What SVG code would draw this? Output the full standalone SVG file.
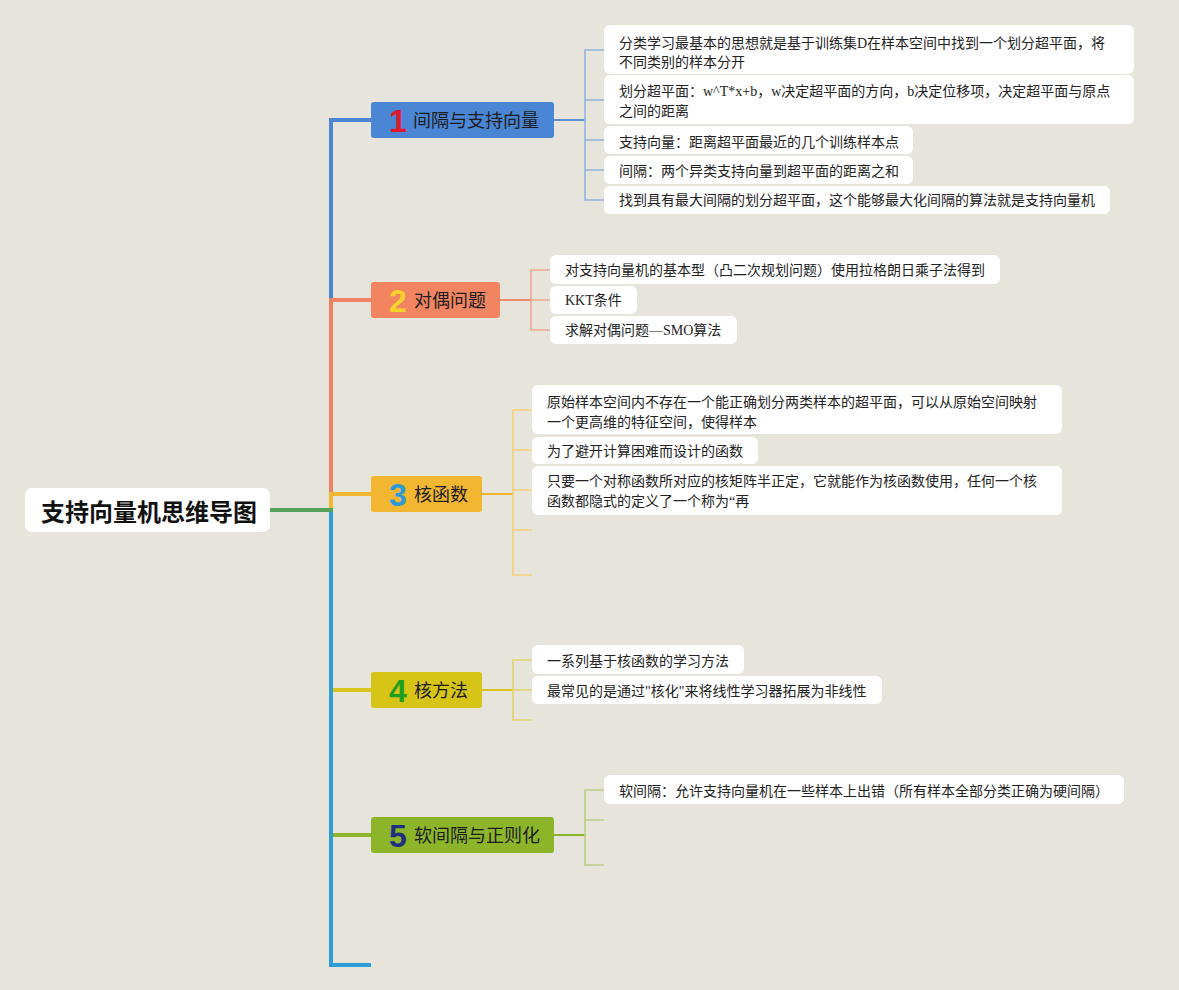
<svg xmlns="http://www.w3.org/2000/svg" width="1179" height="990" viewBox="0 0 1179 990">
<style>
.leaf{fill:#ffffff}
.lt{font-family:"Liberation Serif","Noto Sans CJK SC",serif;font-size:14px;fill:#222222}
.bt{font-family:"Noto Sans CJK SC",sans-serif;font-size:18px;fill:#1c1c1c}
.num{font-family:"Liberation Sans",sans-serif;font-size:32px;font-weight:bold;text-anchor:middle}
.rt{font-family:"Noto Sans CJK SC",sans-serif;font-size:24px;font-weight:bold;fill:#111111}
.trunk{fill:none;stroke-width:4;stroke-linejoin:miter}
.sub{fill:none;stroke-width:1.6}
.stem{fill:none;stroke-width:2}
</style>
<rect x="0" y="0" width="1179" height="990" fill="#e7e4dc"/>
<g id="connectors">
  <path class="trunk" d="M331,510 V120 H371" stroke="#4a86d4"/>
  <path class="trunk" d="M331,510 V300 H371" stroke="#ef8262"/>
  <path class="trunk" d="M331,510 V494 H371" stroke="#f2b630"/>
  <path class="trunk" d="M331,510 V690 H371" stroke="#d8c41a"/>
  <path class="trunk" d="M331,510 V835 H371" stroke="#8cb52a"/>
  <path class="trunk" d="M331,510 V965 H371" stroke="#2d9dd8"/>
  <path class="trunk" d="M270,510 H333" stroke="#55a05a"/>
  <path class="stem" d="M554,120 H585" stroke="#5b8fd6"/>
  <path class="sub" d="M604,50 H585 V200 H604 M585,100 H604 M585,140 H604 M585,170 H604" stroke="#93b3e0"/>
  <path class="stem" d="M500,300 H531" stroke="#ef8a6c"/>
  <path class="sub" d="M550,270 H531 V330 H550 M531,300 H550" stroke="#f2a88e"/>
  <path class="stem" d="M482,494 H513" stroke="#f2b630"/>
  <path class="sub" d="M532,410 H513 V575 H532 M513,450 H532 M513,490 H532 M513,530 H532" stroke="#f5cf78"/>
  <path class="stem" d="M482,690 H513" stroke="#d8c41a"/>
  <path class="sub" d="M532,660 H513 V720 H532 M513,690 H532" stroke="#e2d36a"/>
  <path class="stem" d="M554,835 H585" stroke="#8cb52a"/>
  <path class="sub" d="M604,790 H585 V865 H604 M585,820 H604" stroke="#bacd84"/>
</g>
<g id="root">
  <rect x="25" y="488" width="245" height="44" rx="7" fill="#ffffff"/>
  <text class="rt" x="41" y="521">支持向量机思维导图</text>
</g>
<g id="branch1">
  <rect x="371" y="102" width="183" height="36" rx="3" fill="#4a86d4"/>
  <text class="num" x="398" y="132" fill="#e0162b">1</text>
  <text class="bt" x="413" y="127">间隔与支持向量</text>
</g>
<g id="branch2">
  <rect x="371" y="282" width="129" height="36" rx="3" fill="#f28462"/>
  <text class="num" x="398" y="312" fill="#f8d22c">2</text>
  <text class="bt" x="414" y="307">对偶问题</text>
</g>
<g id="branch3">
  <rect x="371" y="476" width="111" height="36" rx="3" fill="#f2b631"/>
  <text class="num" x="398" y="506" fill="#2a9ad8">3</text>
  <text class="bt" x="414" y="501">核函数</text>
</g>
<g id="branch4">
  <rect x="371" y="672" width="111" height="36" rx="3" fill="#d6c416"/>
  <text class="num" x="398" y="702" fill="#1f9e1f">4</text>
  <text class="bt" x="414" y="697">核方法</text>
</g>
<g id="branch5">
  <rect x="371" y="817" width="183" height="36" rx="3" fill="#8cb52a"/>
  <text class="num" x="398" y="847" fill="#1f2f80">5</text>
  <text class="bt" x="414" y="842">软间隔与正则化</text>
</g>
<g id="leaf1a">
  <rect class="leaf" x="604" y="25" width="530" height="49" rx="6"/>
  <text class="lt" x="619" y="48">分类学习最基本的思想就是基于训练集D在样本空间中找到一个划分超平面，将</text>
  <text class="lt" x="619" y="67">不同类别的样本分开</text>
</g>
<g id="leaf1b">
  <rect class="leaf" x="604" y="75" width="530" height="49" rx="6"/>
  <text class="lt" x="619" y="96">划分超平面：w^T*x+b，w决定超平面的方向，b决定位移项，决定超平面与原点</text>
  <text class="lt" x="619" y="116">之间的距离</text>
</g>
<g id="leaf1c">
  <rect class="leaf" x="604" y="126" width="309" height="28" rx="6"/>
  <text class="lt" x="619" y="147">支持向量：距离超平面最近的几个训练样本点</text>
</g>
<g id="leaf1d">
  <rect class="leaf" x="604" y="156" width="309" height="28" rx="6"/>
  <text class="lt" x="619" y="176">间隔：两个异类支持向量到超平面的距离之和</text>
</g>
<g id="leaf1e">
  <rect class="leaf" x="604" y="186" width="506" height="28" rx="6"/>
  <text class="lt" x="619" y="205">找到具有最大间隔的划分超平面，这个能够最大化间隔的算法就是支持向量机</text>
</g>
<g id="leaf2a">
  <rect class="leaf" x="550" y="255" width="450" height="29" rx="6"/>
  <text class="lt" x="565" y="275">对支持向量机的基本型（凸二次规划问题）使用拉格朗日乘子法得到</text>
</g>
<g id="leaf2b">
  <rect class="leaf" x="550" y="286" width="87" height="28" rx="6"/>
  <text class="lt" x="565" y="305">KKT条件</text>
</g>
<g id="leaf2c">
  <rect class="leaf" x="550" y="316" width="187" height="28" rx="6"/>
  <text class="lt" x="565" y="335">求解对偶问题—SMO算法</text>
</g>
<g id="leaf3a">
  <rect class="leaf" x="532" y="385" width="530" height="49" rx="6"/>
  <text class="lt" x="547" y="407">原始样本空间内不存在一个能正确划分两类样本的超平面，可以从原始空间映射</text>
  <text class="lt" x="547" y="427">一个更高维的特征空间，使得样本</text>
</g>
<g id="leaf3b">
  <rect class="leaf" x="532" y="437" width="226" height="27" rx="6"/>
  <text class="lt" x="547" y="456">为了避开计算困难而设计的函数</text>
</g>
<g id="leaf3c">
  <rect class="leaf" x="532" y="466" width="530" height="49" rx="6"/>
  <text class="lt" x="547" y="486">只要一个对称函数所对应的核矩阵半正定，它就能作为核函数使用，任何一个核</text>
  <text class="lt" x="547" y="506">函数都隐式的定义了一个称为“再</text>
</g>
<g id="leaf4a">
  <rect class="leaf" x="532" y="645" width="212" height="29" rx="6"/>
  <text class="lt" x="547" y="666">一系列基于核函数的学习方法</text>
</g>
<g id="leaf4b">
  <rect class="leaf" x="532" y="676" width="350" height="28" rx="6"/>
  <text class="lt" x="547" y="696">最常见的是通过"核化"来将线性学习器拓展为非线性</text>
</g>
<g id="leaf5a">
  <rect class="leaf" x="604" y="775" width="520" height="29" rx="6"/>
  <text class="lt" x="619" y="796">软间隔：允许支持向量机在一些样本上出错（所有样本全部分类正确为硬间隔）</text>
</g>
</svg>
